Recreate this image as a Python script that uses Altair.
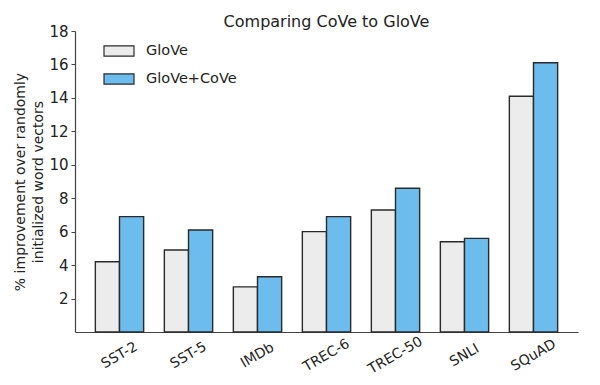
import altair as alt
import pandas as pd

datasets = ["SST-2", "SST-5", "IMDb", "TREC-6", "TREC-50", "SNLI", "SQuAD"]
glove = [4.2, 4.9, 2.7, 6.0, 7.3, 5.4, 14.1]
glove_cove = [6.9, 6.1, 3.3, 6.9, 8.6, 5.6, 16.1]
series = ["GloVe", "GloVe+CoVe"]
colors = ["#ececec", "#6cbcee"]
y_ticks = [2, 4, 6, 8, 10, 12, 14, 16, 18]

rows = []
for d, a, b in zip(datasets, glove, glove_cove):
    rows.append({"dataset": d, "series": series[0], "value": a})
    rows.append({"dataset": d, "series": series[1], "value": b})
df = pd.DataFrame(rows)

font = "DejaVu Sans"

chart = alt.Chart(df).mark_bar(stroke="#2a2a2a", strokeWidth=1.4).encode(
    x=alt.X("dataset:N", sort=datasets,
            scale=alt.Scale(paddingInner=0.3, paddingOuter=0.295),
            axis=alt.Axis(title=None, labelAngle=-30, labelAlign="center",
                          labelBaseline="middle", labelPadding=23, ticks=False,
                          labelFontSize=14, labelFont=font, labelColor="#222",
                          domainColor="#444", domainWidth=1.2)),
    xOffset=alt.XOffset("series:N", sort=series, scale=alt.Scale(paddingInner=0, paddingOuter=0)),
    y=alt.Y("value:Q", scale=alt.Scale(domain=[0, 18], nice=False),
            axis=alt.Axis(values=y_ticks, grid=False, tickSize=4, tickColor="#444",
                          domainColor="#444", domainWidth=1.2,
                          labelFontSize=15, labelFont=font, labelColor="#222",
                          labelPadding=3,
                          title=["% improvement over randomly", "initialized word vectors"],
                          titleFontSize=14, titleFont=font, titleFontWeight="normal",
                          titleColor="#222", titlePadding=3, titleLineHeight=18)),
    color=alt.Color("series:N", sort=series,
                    scale=alt.Scale(domain=series, range=colors),
                    legend=alt.Legend(title=None, orient="none", legendX=28, legendY=4,
                                      symbolType="M-1,-0.34H1V0.34H-1Z", symbolSize=900,
                                      symbolStrokeColor="#2a2a2a", symbolStrokeWidth=1.2,
                                      symbolOpacity=1,
                                      labelFontSize=14.5, labelFont=font, labelColor="#222",
                                      labelOffset=11, rowPadding=4)),
).properties(
    width=503, height=301,
    title=alt.Title("Comparing CoVe to GloVe", fontSize=16, font=font,
                    fontWeight="normal", color="#222", offset=-6),
    autosize=alt.AutoSizeParams(type="none"),
    padding={"left": 67, "top": 23, "right": 14, "bottom": 45},
).configure_view(stroke=None)

chart.save("out.html", embed_options={"renderer": "svg", "actions": False})
